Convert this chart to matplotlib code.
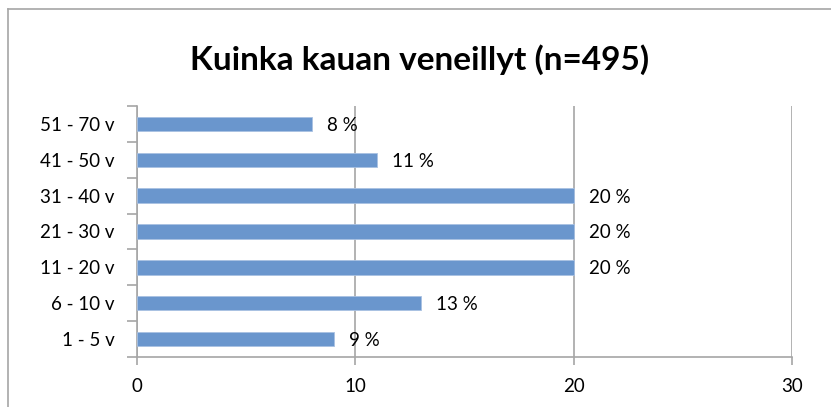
import matplotlib
matplotlib.use('Agg')
from matplotlib import pyplot as plt
from matplotlib.lines import Line2D

categories = ['1 - 5 v', '6 - 10 v', '11 - 20 v', '21 - 30 v', '31 - 40 v', '41 - 50 v', '51 - 70 v']
values = [9, 13, 20, 20, 20, 11, 8]
labels = ['9 %', '13 %', '20 %', '20 %', '20 %', '11 %', '8 %']
xticks = [0, 10, 20, 30]

plt.rcParams['font.family'] = ['Lato', 'DejaVu Sans']

fig = plt.figure(figsize=(8.31, 4.07), dpi=100)
ax = fig.add_axes([137 / 831, 1 - 357 / 407, 655 / 831, 251 / 407])

pos = list(range(len(categories)))
ax.barh(pos, values, height=0.4, color='#6a96cd', edgecolor='#a9c1e2', linewidth=0.6, zorder=3)

for p, v, t in zip(pos, values, labels):
    ax.annotate(t, (v, p), xytext=(11, -1), textcoords='offset points',
                ha='left', va='center', fontsize=13.5, color='black')

ax.set_xlim(0, 30)
ax.set_ylim(-0.5, 6.5)
ax.set_xticks(xticks)
ax.set_xticklabels([str(x) for x in xticks], fontsize=13.5)
ax.set_yticks(pos)
ax.set_yticklabels(categories, fontsize=13.5)
ax.set_yticks([p - 0.5 for p in pos] + [6.5], minor=True)

ax.grid(axis='x', color='#a6a6a6', linewidth=1.2, zorder=0)
ax.tick_params(axis='y', which='major', length=0, pad=16)
ax.tick_params(axis='y', which='minor', length=7, color='#a6a6a6', width=1.2, direction='out')
ax.tick_params(axis='x', length=6, color='#a6a6a6', width=1.2, direction='out', pad=9)

for s in ['top', 'right']:
    ax.spines[s].set_visible(False)
for s in ['left', 'bottom']:
    ax.spines[s].set_color('#a6a6a6')
    ax.spines[s].set_linewidth(1.2)

fig.text(0.505, 1 - 60 / 407, 'Kuinka kauan veneillyt (n=495)', ha='center', va='center',
         fontsize=24, fontweight='bold')

# chart border
fig.add_artist(Line2D([8 / 831, 1], [1 - 9 / 407, 1 - 9 / 407], transform=fig.transFigure, color='#a6a6a6', linewidth=1.2))
fig.add_artist(Line2D([8 / 831, 8 / 831], [0, 1 - 9 / 407], transform=fig.transFigure, color='#a6a6a6', linewidth=1.2))

fig.savefig('out.png', dpi=100)
